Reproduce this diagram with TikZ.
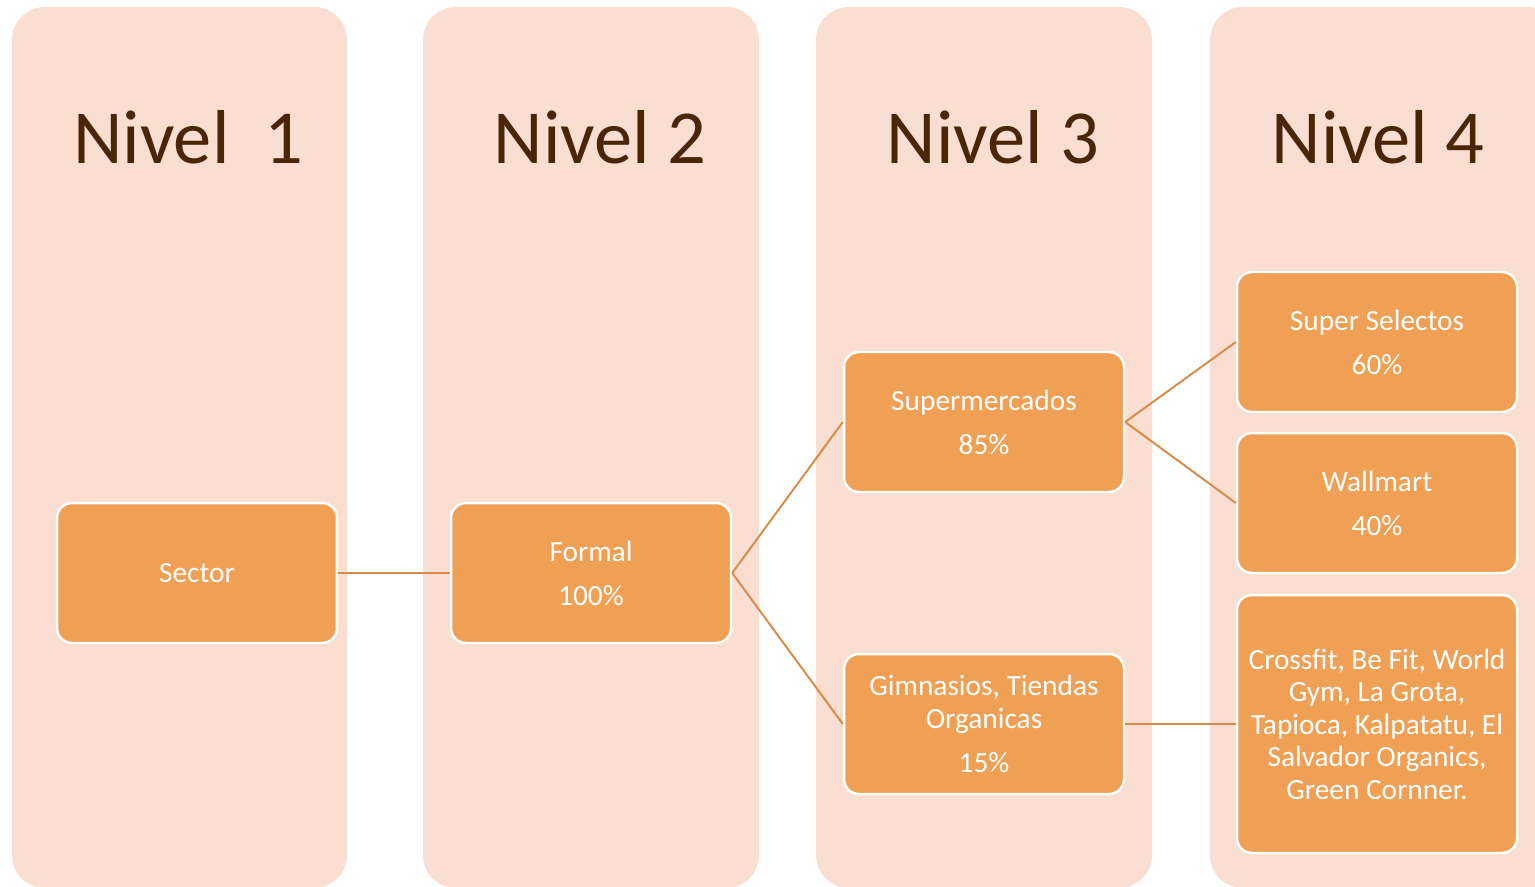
\documentclass[tikz,border=0pt]{standalone}
\usepackage{fontspec}
\setmainfont{Carlito}
\definecolor{colfill}{HTML}{F9DED1}
\definecolor{boxfill}{HTML}{F0A054}
\definecolor{linkcol}{HTML}{D68C48}
\definecolor{titlecol}{HTML}{4A2506}
\begin{document}
\begin{tikzpicture}[x=0.02cm,y=-0.02cm,
  column/.style={fill=colfill,rounded corners=0.66cm},
  title/.style={text=titlecol,font=\fontsize{43.5}{46}\selectfont,inner sep=0pt},
  box/.style={fill=boxfill,draw=white,line width=1.4pt,rounded corners=0.3cm,
    minimum width=5.6cm,minimum height=2.8cm,inner sep=0pt,align=center,
    text=white,font=\fontsize{16.7}{18.5}\selectfont},
  link/.style={draw=linkcol,line width=1.1pt}]
\clip (0,0) rectangle (1535,886);
\fill[white] (0,0) rectangle (1535,886);

% level columns
\path[column] (12,7) rectangle (347,888);
\path[column] (423,7) rectangle (759,888);
\path[column] (816,7) rectangle (1152,888);
\path[column] (1210,7) rectangle (1560,888);

% column headings
\node[title] (t1) at (188,137) {Nivel\ \ 1};
\node[title] (t2) at (600,137) {Nivel 2};
\node[title] (t3) at (993,137) {Nivel 3};
\node[title] (t4) at (1378,137) {Nivel 4};

% boxes
\node[box] (sector) at (197,573) {Sector};
\node[box] (formal) at (591,573) {Formal\\[6.5pt]100\%};
\node[box] (super) at (984,422) {Supermercados\\[6.5pt]85\%};
\node[box] (gym) at (984,724) {Gimnasios, Tiendas\\Organicas\\[6.5pt]15\%};
\node[box] (selectos) at (1377,342) {Super Selectos\\[6.5pt]60\%};
\node[box] (wall) at (1377,503) {Wallmart\\[6.5pt]40\%};
\node[box,minimum height=5.16cm] (cross) at (1377,724)
  {Crossfit, Be Fit, World\\Gym, La Grota,\\Tapioca, Kalpatatu, El\\Salvador Organics,\\Green Cornner.};

% connectors
\draw[link] (sector.east) -- (formal.west);
\draw[link] (formal.east) -- (super.west);
\draw[link] (formal.east) -- (gym.west);
\draw[link] (super.east) -- (selectos.west);
\draw[link] (super.east) -- (wall.west);
\draw[link] (gym.east) -- (cross.west);
\end{tikzpicture}
\end{document}
